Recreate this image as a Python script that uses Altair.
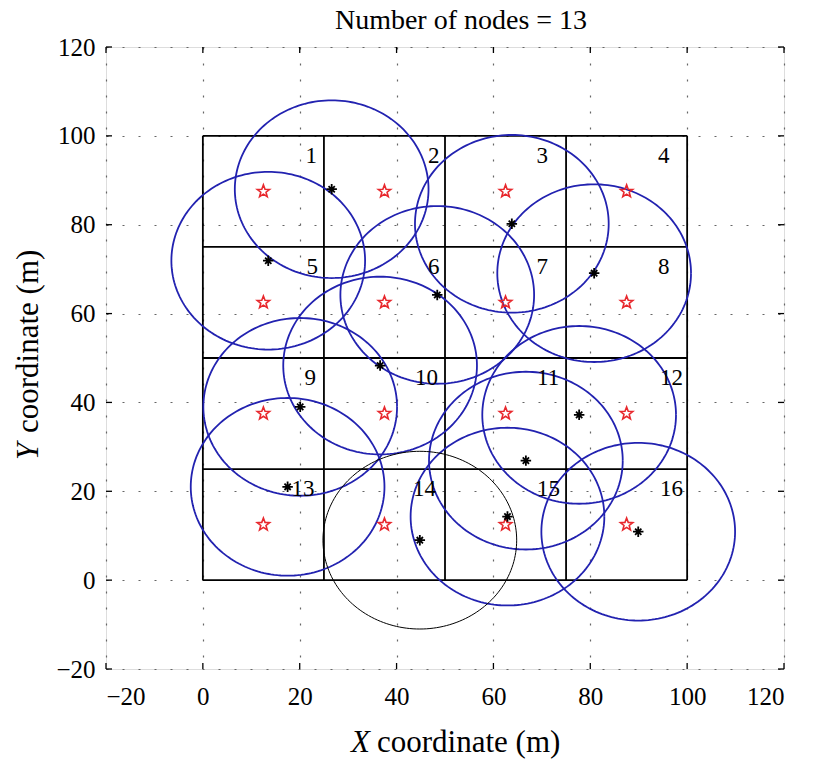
import math
import numpy as np
import pandas as pd
import altair as alt

# ---------------- data ----------------
node_x = [26.6, 63.8, 13.5, 80.8, 48.4, 36.6, 20.1, 77.7, 66.7, 17.5, 44.8, 62.9, 89.9]
node_y = [88.0, 80.2, 71.9, 69.1, 64.2, 48.3, 39.0, 37.2, 26.9, 21.0, 9.0, 14.3, 10.9]
node_head = [0, 0, 0, 0, 0, 0, 0, 0, 0, 0, 1, 0, 0]   # the node drawn with the thin black circle
radius = 20

cell_edges = [0, 25, 50, 75, 100]
cell_centers = [12.5, 37.5, 62.5, 87.5]

cell_label_text = [str(i) for i in range(1, 17)]
cell_label_x = [21.2, 46.5, 68.9, 94.0,
                21.4, 46.5, 68.9, 94.0,
                21.0, 43.8, 69.0, 94.4,
                18.3, 43.4, 69.0, 94.4]
cell_label_y = [95.5] * 4 + [70.5] * 4 + [45.5] * 4 + [20.5] * 4

x_ticks = [-20, 0, 20, 40, 60, 80, 100, 120]
y_ticks = [-20, 0, 20, 40, 60, 80, 100, 120]

title_text = "Number of nodes = 13"

# ---------------- tables ----------------
W, H = 678, 622
FONT = "Liberation Serif, Times New Roman, DejaVu Serif, serif"
BLUE = "#2222b0"
RED = "#e8282d"

nodes = pd.DataFrame({"x": node_x, "y": node_y, "head": node_head})

ang = np.linspace(0, 2 * np.pi, 181)
rows = []
for i, (cx, cy, hd) in enumerate(zip(node_x, node_y, node_head)):
    for k, a in enumerate(ang):
        rows.append({"node": i, "k": k, "head": hd,
                     "x": cx + radius * math.cos(a), "y": cy + radius * math.sin(a)})
circles = pd.DataFrame(rows)

stars = pd.DataFrame([{"x": cx, "y": cy} for cy in cell_centers for cx in cell_centers])
vlines = pd.DataFrame({"x": cell_edges, "y": [cell_edges[0]] * 5, "y2": [cell_edges[-1]] * 5})
hlines = pd.DataFrame({"y": cell_edges, "x": [cell_edges[0]] * 5, "x2": [cell_edges[-1]] * 5})
labels = pd.DataFrame({"t": cell_label_text, "x": cell_label_x, "y": cell_label_y})
xt = pd.DataFrame({"v": x_ticks})
yt = pd.DataFrame({"v": y_ticks})

# star and asterisk symbol paths
pts = []
for k in range(10):
    r = 1.0 if k % 2 == 0 else 0.42
    a = -math.pi / 2 + k * math.pi / 5
    pts.append(f"{r * math.cos(a):.3f},{r * math.sin(a):.3f}")
star_path = "M" + " L".join(pts) + " Z"
ast_path = "M-1,0L1,0M0,-1L0,1M-0.6,-0.6L0.6,0.6M-0.6,0.6L0.6,-0.6"

xscale = alt.Scale(domain=[-20, 120], nice=False, zero=False)
yscale = alt.Scale(domain=[-20, 120], nice=False, zero=False)

common_axis = dict(labelFont=FONT, labelFontSize=25, labelColor="black", ticks=False,
                   domain=False, grid=True, gridDash=[2, 14], gridColor="#666666",
                   gridWidth=1.2, title=None)
xaxis = alt.Axis(values=x_ticks, labelPadding=15, **common_axis)
yaxis = alt.Axis(values=y_ticks, labelPadding=11, **common_axis)

X = lambda f: alt.X(f, scale=xscale, axis=xaxis)
Y = lambda f: alt.Y(f, scale=yscale, axis=yaxis)

vl = alt.Chart(vlines).mark_rule(color="black", strokeWidth=1.8).encode(
    x=X("x:Q"), y=Y("y:Q"), y2="y2:Q")
hl = alt.Chart(hlines).mark_rule(color="black", strokeWidth=1.8).encode(
    y=Y("y:Q"), x=X("x:Q"), x2="x2:Q")

blue_c = alt.Chart(circles[circles["head"] == 0]).mark_line(color=BLUE, strokeWidth=1.8).encode(
    x=X("x:Q"), y=Y("y:Q"), detail="node:N", order="k:Q")
black_c = alt.Chart(circles[circles["head"] == 1]).mark_line(color="black", strokeWidth=1.0).encode(
    x=X("x:Q"), y=Y("y:Q"), detail="node:N", order="k:Q")

star_m = alt.Chart(stars).mark_point(shape=star_path, filled=False, stroke=RED,
                                     strokeWidth=1.6, size=170, opacity=1).encode(
    x=X("x:Q"), y=Y("y:Q"))
node_m = alt.Chart(nodes).mark_point(shape=ast_path, filled=False, stroke="black",
                                     strokeWidth=1.8, size=110, opacity=1).encode(
    x=X("x:Q"), y=Y("y:Q"))

lab_m = alt.Chart(labels).mark_text(font=FONT, fontSize=23, align="left", baseline="middle",
                                    color="black").encode(
    x=X("x:Q"), y=Y("y:Q"), text="t:N")

TL = 6
tick_b = alt.Chart(xt).mark_rule(color="black", strokeWidth=1.3).encode(
    x=X("v:Q"), y=alt.value(H), y2=alt.value(H - TL))
tick_t = alt.Chart(xt).mark_rule(color="black", strokeWidth=1.3).encode(
    x=X("v:Q"), y=alt.value(0), y2=alt.value(TL))
tick_l = alt.Chart(yt).mark_rule(color="black", strokeWidth=1.3).encode(
    y=Y("v:Q"), x=alt.value(0), x2=alt.value(TL))
tick_r = alt.Chart(yt).mark_rule(color="black", strokeWidth=1.3).encode(
    y=Y("v:Q"), x=alt.value(W), x2=alt.value(W - TL))

one = pd.DataFrame({"a": [0]})
title_m = alt.Chart(one).mark_text(text=title_text, font=FONT, fontSize=28, align="center",
                                   baseline="alphabetic", color="black").encode(
    x=alt.value(355), y=alt.value(-18.5))
xt1 = alt.Chart(one).mark_text(text="X", font=FONT, fontSize=31, fontStyle="italic",
                               align="left", baseline="alphabetic", color="black").encode(
    x=alt.value(245), y=alt.value(705))
xt2 = alt.Chart(one).mark_text(text="coordinate (m)", font=FONT, fontSize=31,
                               align="left", baseline="alphabetic", color="black").encode(
    x=alt.value(271), y=alt.value(705))
yt1 = alt.Chart(one).mark_text(text="Y", font=FONT, fontSize=31, fontStyle="italic", angle=270,
                               align="left", baseline="alphabetic", color="black").encode(
    x=alt.value(-68), y=alt.value(413))
yt2 = alt.Chart(one).mark_text(text="coordinate (m)", font=FONT, fontSize=31, angle=270,
                               align="left", baseline="alphabetic", color="black").encode(
    x=alt.value(-68), y=alt.value(386))

chart = alt.layer(
    vl, hl, blue_c, black_c, star_m, node_m, lab_m,
    tick_b, tick_t, tick_l, tick_r, title_m, xt1, xt2, yt1, yt2
).properties(
    width=W, height=H,
    autosize=alt.AutoSizeParams(type="none"),
    padding={"left": 106, "top": 47, "right": 29, "bottom": 90},
).configure_view(stroke="black", strokeWidth=2).configure(background="white")

chart.save("out.html", embed_options={"renderer": "svg", "actions": False})
